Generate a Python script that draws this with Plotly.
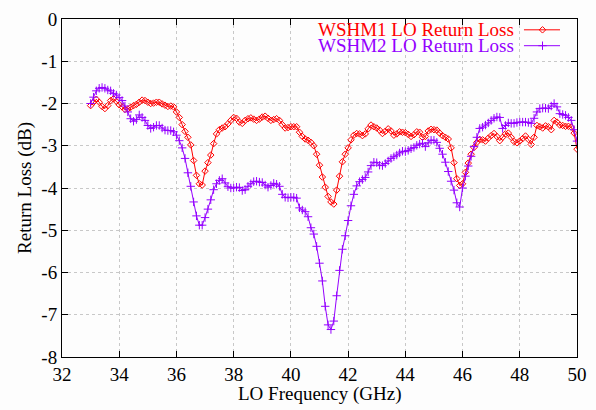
import numpy as np
import plotly.graph_objects as go

# LO sweep, 33.0 .. 50.0 GHz in 0.1 GHz steps
freq_ghz = np.round(np.arange(330, 501) / 10.0, 1)

wshm1_rl = [
    -2.05, -1.97, -1.90, -1.97, -2.07, -2.12, -2.05, -1.93, -1.89, -1.95,
    -2.03, -2.08, -2.14, -2.13, -2.09, -2.05, -2.02, -1.97, -1.92, -1.93,
    -1.97, -2.00, -1.99, -1.97, -1.97, -2.01, -2.04, -2.07, -2.06, -2.08,
    -2.20, -2.33, -2.50, -2.66, -2.80, -2.98, -3.35, -3.70, -3.90, -3.93,
    -3.60, -3.40, -3.22, -2.95, -2.72, -2.62, -2.58, -2.55, -2.48, -2.40,
    -2.33, -2.35, -2.44, -2.47, -2.40, -2.36, -2.34, -2.37, -2.40, -2.37,
    -2.32, -2.30, -2.35, -2.40, -2.38, -2.36, -2.40, -2.50, -2.58, -2.57,
    -2.55, -2.55, -2.55, -2.68, -2.78, -2.84, -2.87, -2.92, -3.00, -3.20,
    -3.46, -3.74, -3.98, -4.20, -4.33, -4.38, -4.05, -3.72, -3.38, -3.20,
    -3.05, -2.86, -2.75, -2.71, -2.72, -2.76, -2.72, -2.60, -2.51, -2.55,
    -2.58, -2.63, -2.71, -2.66, -2.60, -2.65, -2.75, -2.72, -2.67, -2.68,
    -2.69, -2.73, -2.78, -2.74, -2.67, -2.68, -2.80, -2.78, -2.65, -2.61,
    -2.62, -2.63, -2.70, -2.76, -2.80, -2.84, -3.05, -3.40, -3.78, -3.94,
    -3.90, -3.63, -3.41, -3.20, -3.04, -2.92, -2.85, -2.86, -2.89, -2.82,
    -2.76, -2.71, -2.78, -2.88, -2.80, -2.72, -2.70, -2.80, -2.90, -2.93,
    -2.89, -2.83, -2.77, -2.85, -2.97, -2.80, -2.52, -2.55, -2.58, -2.53,
    -2.55, -2.62, -2.40, -2.44, -2.51, -2.52, -2.54, -2.54, -2.56, -2.70,
    -3.08,
]

wshm2_rl = [
    -2.00, -1.85, -1.70, -1.64, -1.62, -1.64, -1.68, -1.70, -1.76, -1.80,
    -1.86, -1.93, -2.06, -2.20, -2.36, -2.42, -2.38, -2.27, -2.33, -2.40,
    -2.52, -2.59, -2.56, -2.52, -2.52, -2.58, -2.63, -2.64, -2.64, -2.67,
    -2.75, -2.88, -3.05, -3.30, -3.64, -3.96, -4.33, -4.66, -4.88, -4.88,
    -4.70, -4.50, -4.28, -4.04, -3.90, -3.82, -3.78, -3.88, -3.97, -4.00,
    -4.00, -3.98, -3.99, -4.06, -4.04, -3.96, -3.90, -3.85, -3.84, -3.86,
    -3.87, -3.93, -3.98, -3.94, -3.89, -3.91, -3.96, -4.15, -4.22, -4.23,
    -4.22, -4.22, -4.24, -4.47, -4.52, -4.56, -4.68, -4.94, -5.09, -5.38,
    -5.78, -6.20, -6.80, -7.24, -7.35, -7.15, -6.55, -5.95, -5.45, -5.13,
    -4.77, -4.42, -4.15, -3.95, -3.85, -3.80, -3.75, -3.62, -3.47, -3.39,
    -3.40, -3.46, -3.47, -3.42, -3.36, -3.30, -3.26, -3.22, -3.17, -3.13,
    -3.14, -3.11, -3.07, -3.04, -2.99, -2.96, -2.94, -3.02, -2.93, -2.87,
    -2.87, -2.92, -3.06, -3.20, -3.39, -3.61, -3.84, -4.05, -4.35, -4.45,
    -4.00, -3.72, -3.48, -3.25, -3.02, -2.80, -2.59, -2.56, -2.51, -2.46,
    -2.40, -2.35, -2.32, -2.33, -2.59, -2.52, -2.46, -2.47, -2.47, -2.45,
    -2.44, -2.44, -2.44, -2.45, -2.47, -2.35, -2.20, -2.12, -2.11, -2.11,
    -2.12, -2.06, -2.00, -2.08, -2.24, -2.26, -2.28, -2.33, -2.40, -2.62,
    -2.89,
]

series_names = ["WSHM1 LO Return Loss", "WSHM2 LO Return Loss"]
x_ticks = [32, 34, 36, 38, 40, 42, 44, 46, 48, 50]
y_ticks = [0, -1, -2, -3, -4, -5, -6, -7, -8]
y_tick_labels = ["0", "-1", "-2", "-3", "-4", "-5", "-6", "-7", "-8"]
x_title = "LO Frequency (GHz)"
y_title = "Return Loss (dB)"

RED = "#ff0000"
PURPLE = "#9400ff"
FONT = "Liberation Serif"

fig = go.Figure()
fig.add_trace(go.Scatter(
    x=freq_ghz, y=wshm1_rl, mode="lines+markers", name=series_names[0],
    line=dict(color=RED, width=1),
    marker=dict(symbol="diamond-open", size=5, color=RED, line=dict(width=1)),
))
fig.add_trace(go.Scatter(
    x=freq_ghz, y=wshm2_rl, mode="lines+markers", name=series_names[1],
    line=dict(color=PURPLE, width=1),
    marker=dict(symbol="cross-thin-open", size=6, color=PURPLE, line=dict(width=1, color=PURPLE)),
))

# gnuplot-style key: right-aligned text with the sample to its right
key_rows = [(series_names[0], RED, "diamond-open", 5), (series_names[1], PURPLE, "cross-thin-open", 6)]
for i, (name, color, sym, msize) in enumerate(key_rows):
    y0 = 0.968 - i * 0.047
    fig.add_annotation(xref="paper", yref="paper", x=0.882, y=y0, text=name,
                       showarrow=False, xanchor="right", yanchor="middle",
                       font=dict(family=FONT, size=19, color=color))
    fig.add_shape(type="line", xref="paper", yref="paper", x0=0.897, x1=0.967,
                  y0=y0, y1=y0, line=dict(color=color, width=1))
    fig.add_trace(go.Scatter(
        x=[0.933], y=[y0], xaxis="x2", yaxis="y2", mode="markers", showlegend=False,
        marker=dict(symbol=sym, size=msize, color=color, line=dict(width=1, color=color)),
        hoverinfo="skip",
    ))

# axis titles placed like gnuplot's, tight to the tick labels
fig.add_annotation(xref="paper", yref="paper", x=0.5, y=-0.108, text=x_title,
                   showarrow=False, xanchor="center", yanchor="middle",
                   font=dict(family=FONT, size=19, color="black"))
fig.add_annotation(xref="paper", yref="paper", x=-0.072, y=0.5, text=y_title,
                   showarrow=False, xanchor="center", yanchor="middle", textangle=-90,
                   font=dict(family=FONT, size=19, color="black"))

axis_common = dict(
    showline=True, linecolor="black", linewidth=1, mirror="ticks",
    ticks="inside", ticklen=6, tickcolor="black",
    showgrid=True, gridcolor="#c8c8c8", griddash="dot", gridwidth=1,
    zeroline=False, tickfont=dict(family=FONT, size=19, color="black"),
)
fig.update_layout(
    width=596, height=410,
    paper_bgcolor="#fdfdfd", plot_bgcolor="#fdfdfd",
    margin=dict(l=62, r=9, t=16, b=53),
    showlegend=False,
    font=dict(family=FONT, size=19, color="black"),
    xaxis=dict(range=[32, 50], tickvals=x_ticks, **axis_common),
    yaxis=dict(range=[-8, 0], tickvals=y_ticks, ticktext=y_tick_labels, **axis_common),
    xaxis2=dict(range=[0, 1], overlaying="x", visible=False),
    yaxis2=dict(range=[0, 1], overlaying="y", visible=False),
)

# drop the page's default body margin so the figure fills the window exactly
fig.write_html(
    "out.html",
    config={"displayModeBar": False},
    post_script="document.body.style.margin='0';document.body.style.overflow='hidden';",
)
